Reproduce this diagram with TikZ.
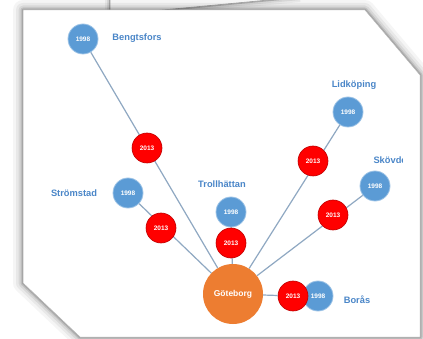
\documentclass[tikz,border=0pt]{standalone}
\usepackage{fontspec}
\setmainfont{Liberation Sans}
\definecolor{cblue}{HTML}{5B9BD5}
\definecolor{clabel}{HTML}{4A86C8}
\definecolor{clink}{HTML}{8FA8C2}
\definecolor{corange}{HTML}{ED7D31}
\begin{document}
\begin{tikzpicture}[x=1pt,y=-1pt,
  yr/.style={circle, minimum size=30pt, inner sep=0pt, font=\fontsize{6.5}{7}\selectfont\bfseries, text=white},
  old/.style={yr, fill=cblue, draw=cblue!60!white, line width=0.8pt},
  new/.style={yr, fill=red, draw=red!75!black, line width=0.6pt},
  city/.style={text=clabel, font=\fontsize{9.3}{11}\selectfont\bfseries},
  link/.style={draw=clink, line width=1.2pt},
  hub/.style={circle, minimum size=60pt, inner sep=0pt, fill=corange, text=white, font=\fontsize{8.5}{10}\selectfont\bfseries},
  paper/.style={fill=white, draw=gray!60, line width=0.5pt}]
\useasboundingbox (0,0) rectangle (423,339);
\fill[white] (0,0) rectangle (423,339);
% top paper shadow and sheet
\foreach \w/\o in {10/0.05,6/0.08,2.5/0.2}
  \draw[line width=\w pt, black, opacity=\o] (110,-5) -- (110,15) -- (300,-3);
\fill[white] (110,-10) -- (110,15) -- (300,-3) -- (300,-10) -- cycle;
\draw[gray!70, line width=0.6pt] (110,-5) -- (110,15) -- (300,-3);
% main paper shadow
\foreach \w/\o in {20/0.04,14/0.05,9/0.07,5/0.1,2.5/0.14}
  \draw[line width=\w pt, black, opacity=\o, line join=round] (23,10) -- (365,10) -- (420,75) -- (420,337) -- (80,337) -- (23,283) -- cycle;
\path[paper] (23,10) -- (365,10) -- (420,75) -- (420,337) -- (80,337) -- (23,283) -- cycle;
% nodes
\node[hub] (got) at (233,294) {Göteborg};
\node[old] (ben98) at (83,39) {1998};
\node[old] (lid98) at (348,112) {1998};
\node[old] (sko98) at (375,186) {1998};
\node[old] (str98) at (128,193) {1998};
\node[old] (tro98) at (231,212) {1998};
\node[old] (bor98) at (318,296) {1998};
% links
\draw[link] (ben98) -- (got);
\draw[link] (lid98) -- (got);
\draw[link] (sko98) -- (got);
\draw[link] (str98) -- (got);
\draw[link] (tro98) -- (got);
\node[new] (ben13) at (147,148) {2013};
\node[new] (lid13) at (313,161) {2013};
\node[new] (sko13) at (333,215) {2013};
\node[new] (str13) at (161,228) {2013};
\node[new] (tro13) at (231,243) {2013};
\node[new] (bor13) at (293,296) {2013};
\draw[link] (got) -- (bor13);
% labels
\node[city] (lben) at (137,38) {Bengtsfors};
\node[city] (llid) at (354,85) {Lidköping};
\node[city] (lstr) at (74,193) {Strömstad};
\node[city] (ltro) at (222,184) {Trollhättan};
\node[city] (lbor) at (357,300) {Borås};
\begin{scope}
  \clip (300,140) rectangle (402,180);
  \node[city, anchor=west] (lsko) at (370,160) {Skövde};
\end{scope}
\end{tikzpicture}
\end{document}
